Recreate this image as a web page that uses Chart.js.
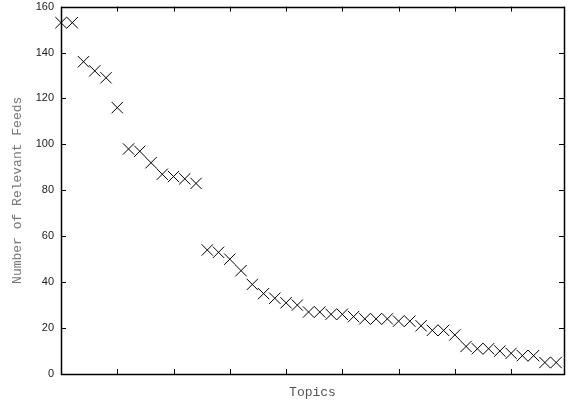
<!DOCTYPE html>
<html>
<head>
<meta charset="utf-8">
<script src="https://cdn.jsdelivr.net/npm/chart.js@4/dist/chart.umd.min.js"></script>
<style>
  html, body { margin: 0; padding: 0; background: #fff; }
  #c { display: block; }
</style>
</head>
<body>
<canvas id="c" width="568" height="400"></canvas>
<script>
// Data (topics sorted by number of relevant feeds)
const topicIndex = [0,1,2,3,4,5,6,7,8,9,10,11,12,13,14,15,16,17,18,19,20,21,22,23,24,25,26,27,28,29,30,31,32,33,34,35,36,37,38,39,40,41,42,43,44];
const relevantFeeds = [153,153,136,132,129,116,98,97,92,87,86,85,83,54,53,50,45,39,35,33,31,30,27,27,26,26,25,24,24,24,23,23,21,19,19,17,12,11,11,10,9,8,8,5,5];
const yTicks = [0,20,40,60,80,100,120,140,160];
const xTitle = 'Topics';
const yTitle = 'Number of Relevant Feeds';

const points = topicIndex.map((x, i) => ({ x: x, y: relevantFeeds[i] }));

// Draw frame and inward (mirrored) tick marks, gnuplot style
const framePlugin = {
  id: 'frame',
  afterDatasetsDraw(chart) {
    const { ctx, chartArea: a, scales } = chart;
    const len = 5;
    ctx.save();
    ctx.strokeStyle = '#000';
    ctx.lineWidth = 1;
    ctx.beginPath();
    scales.x.ticks.forEach(t => {
      const px = Math.round(scales.x.getPixelForValue(t.value)) + 0.5;
      ctx.moveTo(px, a.bottom); ctx.lineTo(px, a.bottom - len);
      ctx.moveTo(px, a.top); ctx.lineTo(px, a.top + len);
    });
    scales.y.ticks.forEach(t => {
      const py = Math.round(scales.y.getPixelForValue(t.value)) + 0.5;
      ctx.moveTo(a.left, py); ctx.lineTo(a.left + len, py);
      ctx.moveTo(a.right, py); ctx.lineTo(a.right - len, py);
    });
    ctx.stroke();
    ctx.lineWidth = 1.5;
    ctx.strokeRect(Math.round(a.left) + 0.5, Math.round(a.top) + 0.5,
                   Math.round(a.right - a.left), Math.round(a.bottom - a.top));
    ctx.restore();
  }
};

new Chart(document.getElementById('c'), {
  type: 'scatter',
  data: {
    datasets: [{
      data: points,
      pointStyle: 'crossRot',
      pointRadius: 8,
      pointHoverRadius: 8,
      pointBorderWidth: 1,
      borderColor: '#000',
      backgroundColor: '#000',
      showLine: false,
      clip: false
    }]
  },
  options: {
    responsive: false,
    animation: false,
    events: [],
    layout: { autoPadding: false, padding: { top: 0, right: 4, bottom: 0, left: 0 } },
    plugins: { legend: { display: false }, tooltip: { enabled: false } },
    scales: {
      x: {
        type: 'linear',
        min: 0,
        max: 44.7,
        grid: { display: false },
        border: { display: false },
        ticks: { display: false, stepSize: 5 },
        title: {
          display: true,
          text: xTitle,
          color: '#555',
          font: { family: 'Liberation Mono', size: 13 },
          padding: { top: 0, bottom: 0 }
        },
        afterFit(scale) { scale.height = 26; }
      },
      y: {
        type: 'linear',
        min: 0,
        max: 160,
        grid: { display: true, drawOnChartArea: false, drawTicks: true, tickLength: 7, tickColor: 'rgba(0,0,0,0)' },
        border: { display: false },
        afterBuildTicks(scale) { scale.ticks = yTicks.map(v => ({ value: v })); },
        ticks: {
          padding: 0,
          color: '#222',
          font: { family: 'Liberation Sans', size: 11 }
        },
        title: {
          display: true,
          text: yTitle,
          color: '#777',
          font: { family: 'Liberation Mono', size: 13 },
          padding: { top: 10, bottom: 0 }
        },
        afterFit(scale) { scale.width = 61; }
      }
    }
  },
  plugins: [framePlugin]
});
</script>
</body>
</html>
